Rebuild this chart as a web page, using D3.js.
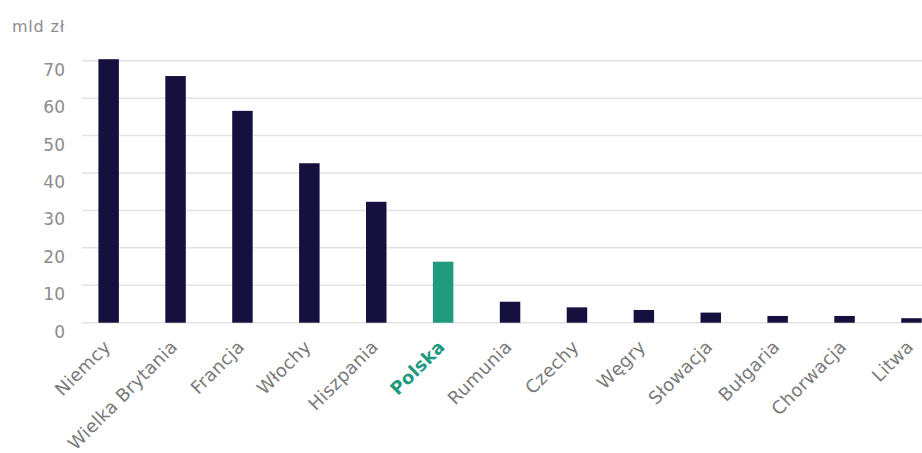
<!DOCTYPE html>
<html>
<head>
<meta charset="utf-8">
<script src="https://cdn.jsdelivr.net/npm/d3@7"></script>
<style>
  html, body { margin: 0; padding: 0; background: #ffffff; }
  svg { display: block; }
  text { font-family: "DejaVu Sans", "Noto Sans", sans-serif; }
</style>
</head>
<body>
<svg id="chart" width="922" height="453"></svg>
<script>
// Countries and values (mld zł)
const countries = ["Niemcy", "Wielka Brytania", "Francja", "Włochy", "Hiszpania", "Polska",
  "Rumunia", "Czechy", "Węgry", "Słowacja", "Bułgaria", "Chorwacja", "Litwa"];
const values = [70.4, 65.9, 56.6, 42.6, 32.3, 16.3, 5.6, 4.1, 3.4, 2.7, 1.8, 1.8, 1.2];
const yTicks = [0, 10, 20, 30, 40, 50, 60, 70];
const highlight = "Polska";
const unitLabel = "mld zł";

const svg = d3.select("#chart");
const W = 922;

const step = 66.9;
const x = d3.scaleBand()
  .domain(countries)
  .range([75.2, 75.2 + step * countries.length])
  .paddingInner(0.694)
  .paddingOuter(0.347);

const y = d3.scaleLinear().domain([0, 70]).range([322.7, 60.7]);

// Horizontal gridlines
svg.append("g")
  .selectAll("line")
  .data(yTicks)
  .join("line")
  .attr("x1", 82).attr("x2", W)
  .attr("y1", d => y(d)).attr("y2", d => y(d))
  .attr("stroke", "#e2e2e2")
  .attr("stroke-width", 1.5);

// Y axis labels
svg.append("g")
  .selectAll("text")
  .data(yTicks)
  .join("text")
  .attr("x", 65)
  .attr("y", d => y(d) + 9)
  .attr("dy", "0.35em")
  .attr("text-anchor", "end")
  .attr("font-size", 17)
  .attr("fill", "#8c8c8c")
  .text(d => d);

svg.append("text")
  .attr("x", 65).attr("y", 31.5)
  .attr("text-anchor", "end")
  .attr("font-size", 16)
  .attr("letter-spacing", 0.8)
  .attr("fill", "#8c8c8c")
  .text(unitLabel);

// Bars
svg.append("g")
  .selectAll("rect")
  .data(countries.map((c, i) => ({ c, v: values[i] })))
  .join("rect")
  .attr("x", d => x(d.c))
  .attr("width", x.bandwidth())
  .attr("y", d => y(d.v))
  .attr("height", d => y(0) - y(d.v))
  .attr("fill", d => d.c === highlight ? "#1f9a7f" : "#15103d");

// Category labels, rotated
svg.append("g")
  .selectAll("text")
  .data(countries)
  .join("text")
  .attr("transform", d => `translate(${x(d) + x.bandwidth() / 2 + 3},348) rotate(-45)`)
  .attr("text-anchor", "end")
  .attr("font-size", 18)
  .attr("letter-spacing", 0.3)
  .attr("font-weight", d => d === highlight ? "bold" : "normal")
  .attr("fill", d => d === highlight ? "#1f9a7f" : "#7a7a7a")
  .text(d => d);
</script>
</body>
</html>
